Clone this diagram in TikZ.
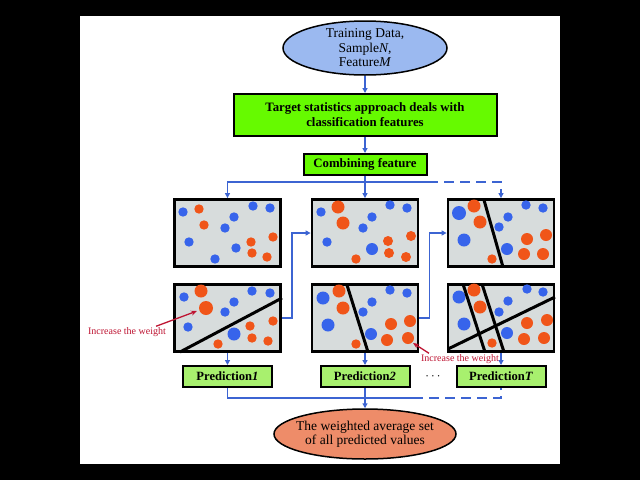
\documentclass[tikz,border=0pt]{standalone}
\usepackage{fontspec}
\setmainfont{Liberation Serif}
\usetikzlibrary{arrows.meta,shapes.geometric}
\definecolor{ellblue}{RGB}{155,185,240}
\definecolor{greenA}{RGB}{102,250,0}
\definecolor{greenB}{RGB}{168,240,110}
\definecolor{salmon}{RGB}{238,140,105}
\definecolor{panelgray}{RGB}{215,220,220}
\definecolor{conblue}{RGB}{60,100,210}
\definecolor{dotblue}{RGB}{55,100,235}
\definecolor{dotorange}{RGB}{240,85,25}
\definecolor{redlab}{RGB}{190,20,50}
\newcommand\bdt[3][4.7]{\fill[dotblue] (#2,#3) circle[radius=#1pt];}
\newcommand\odt[3][4.7]{\fill[dotorange] (#2,#3) circle[radius=#1pt];}
\begin{document}
\begin{tikzpicture}[x=1pt,y=-1pt,
  ell/.style={ellipse, draw=black, line width=1.5pt, inner sep=0pt, align=center, font=\fontsize{13.5}{14.5}\selectfont},
  gbox/.style={rectangle, draw=black, line width=2pt, fill=greenA, inner sep=0pt, align=center, font=\bfseries\fontsize{12.8}{15}\selectfont},
  pbox/.style={rectangle, draw=black, line width=2pt, fill=greenB, inner sep=0pt, minimum width=89pt, minimum height=21pt, font=\bfseries\fontsize{12.6}{13}\selectfont},
  panel/.style={rectangle, draw=black, line width=2.8pt, fill=panelgray, inner sep=0pt, minimum width=106pt, minimum height=67pt},
  conn/.style={draw=conblue, line width=1.5pt},
  arr/.style={conn, -{Triangle[length=5pt,width=5pt]}},
  dsh/.style={dash pattern=on 10pt off 6pt},
  sep/.style={black, line width=3pt},
  lab/.style={text=redlab, inner sep=0pt, font=\fontsize{10}{11}\selectfont},
  redarr/.style={draw=redlab, line width=1.3pt, -{Stealth[length=6pt,width=5pt]}}]
\fill[black] (0,0) rectangle (640,480);
\fill[white] (80,16) rectangle (560,464);

% main nodes
\node[ell, fill=ellblue, minimum width=164pt, minimum height=54pt, inner xsep=-4pt, inner ysep=-6pt] (src) at (365,48) {Training Data,\\Sample\textit{N},\\Feature\textit{M}};
\node[gbox, minimum width=263pt, minimum height=42pt] (tgt) at (365,115) {Target statistics approach deals with\\classification features};
\node[gbox, minimum width=123pt, minimum height=21pt] (cf) at (365,164.5) {Combining feature};

\node[panel] (p1t) at (227.5,233) {};
\node[panel] (p1b) at (227.5,318) {};
\node[panel] (p2t) at (365,233) {};
\node[panel] (p2b) at (365,318) {};
\node[panel] (p3t) at (501,233) {};
\node[panel] (p3b) at (501,318) {};

\node[pbox] (pr1) at (227.5,376.5) {Prediction\textit{1}};
\node[pbox] (pr2) at (365,376.5) {Prediction\textit{2}};
\node[pbox] (prT) at (501,376.5) {Prediction\textit{T}};
\node[scale=1.3] (dots) at (433,377) {$\cdots$};

\node[ell, fill=salmon, minimum width=182pt, minimum height=50pt, inner xsep=-11pt, inner ysep=-4pt] (out) at (365,434) {The weighted average set\\of all predicted values};

% panel 1 top
\bdt{183}{212}\bdt{253}{206}\bdt{270}{208}\bdt{234}{217}\bdt{225}{228}\bdt{189}{242}\bdt{236}{248}\bdt{215}{259}
\odt{199}{209}\odt{204}{225}\odt{273}{237}\odt{251}{242}\odt{252}{253}\odt{267}{257}
% panel 1 bottom
\bdt{184}{297}\bdt{252}{291}\bdt{270}{293}\bdt{234}{302}\bdt{225}{312}\bdt{188}{327}\bdt[6.5]{234}{334}
\odt[6.5]{201}{291}\odt[7]{206}{308}\odt{273}{321}\odt{250}{326}\odt{252}{338}\odt{268}{341}\odt{218}{344}
\draw[sep] (180,352) -- (282,298);
% panel 2 top
\bdt{321}{212}\bdt{390}{205}\bdt{407}{208}\bdt{372}{217}\bdt{363}{228}\bdt{327}{242}\bdt[6]{372}{249}
\odt[6.5]{338}{207}\odt[6.5]{343}{223}\odt[5]{411}{236}\odt[5]{388}{241}\odt[5]{389}{253}\odt[5]{406}{257}\odt{356}{259}
% panel 2 bottom
\bdt[6.5]{323}{298}\bdt{390}{290}\bdt{407}{293}\bdt{372}{302}\bdt{363}{312}\bdt[6.5]{328}{325}\bdt[6]{371}{334}
\odt[6.5]{339}{291}\odt[6.5]{343}{308}\odt[6]{410}{321}\odt[6]{391}{324}\odt[6]{387}{340}\odt[6]{408}{338}\odt{356}{344}
\draw[sep] (347,285) -- (368,352);
% panel 3 top
\bdt[7]{459}{213}\bdt{526}{205}\bdt{543}{208}\bdt{508}{217}\bdt{499}{227}\bdt[6.5]{464}{240}\bdt[6]{507}{249}
\odt[6.5]{474}{206}\odt[6.5]{480}{222}\odt[6]{546}{235}\odt[6]{527}{239}\odt[6]{524}{254}\odt[6]{543}{254}\odt{492}{259}
\draw[sep] (484,200) -- (503,267);
% panel 3 bottom
\bdt[6.5]{459}{297}\bdt{527}{289}\bdt{543}{292}\bdt{508}{301}\bdt{499}{312}\bdt[6.5]{464}{324}\bdt[6]{507}{333}
\odt[6.5]{474}{290}\odt[6.5]{480}{307}\odt[6]{547}{320}\odt[6]{527}{323}\odt[6]{524}{339}\odt[6]{544}{338}\odt{492}{343}
\draw[sep] (463,284) -- (485,352);
\draw[sep] (482,284) -- (504,352);
\draw[sep] (448,349) -- (555,297);

% connectors
\draw[arr] (src.south) -- (tgt.north);
\draw[arr] (tgt.south) -- (cf.north);
\coordinate (hub) at (365,182);
\coordinate (dstart) at (428,182);
\draw[arr] (cf.south) -- (p2t.north);
\draw[arr] (hub) -| (p1t.north);
\draw[conn] (hub) -- (dstart);
\draw[arr, dsh] (dstart) -| (p3t.north);
\draw[arr] (p1b.east) -- ++(10,0) |- (p2t.west);
\draw[arr] (p2b.east) -- ++(10,0) |- (p3t.west);
\draw[arr] (p1b.south) -- (pr1.north);
\draw[arr] (p2b.south) -- (pr2.north);
\draw[arr] (p3b.south) -- (prT.north);
\coordinate (bj) at (365,398);
\coordinate (bd) at (413,398);
\draw[conn] (pr1.south) |- (bj);
\draw[conn] (bj) -- (bd);
\draw[conn, dsh] (bd) -| (prT.south);
\draw[arr] (pr2.south) -- (out.north);

% red labels
\node[lab] (lab1) at (127,332) {Increase the weight};
\coordinate (t1) at (197,311);
\draw[redarr] ([xshift=-10pt,yshift=1pt]lab1.north east) -- (t1);
\node[lab] (lab2) at (460,359) {Increase the weight};
\coordinate (t2) at (413,343);
\draw[redarr] ([xshift=8pt,yshift=1pt]lab2.north west) -- (t2);
\end{tikzpicture}
\end{document}
